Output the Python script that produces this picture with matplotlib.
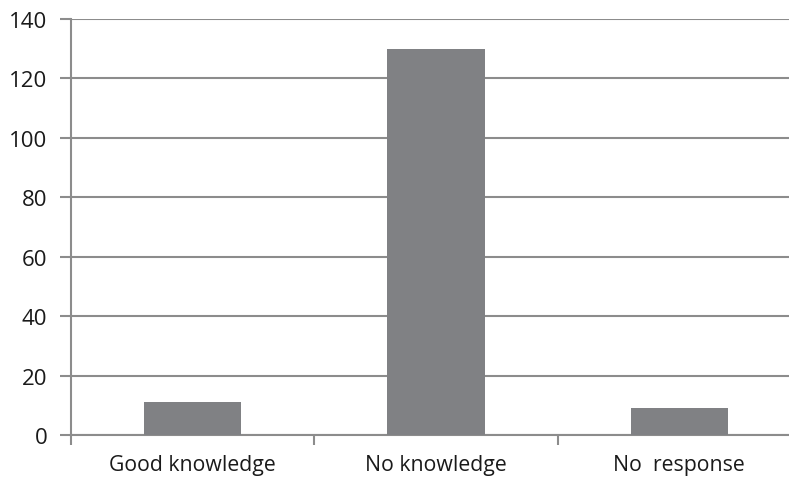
import matplotlib.pyplot as plt

categories = ["Good knowledge", "No knowledge", "No  response"]
values = [11, 130, 9]
yticks = [0, 20, 40, 60, 80, 100, 120, 140]

plt.rcParams['font.family'] = ['Open Sans', 'DejaVu Sans']

fig = plt.figure(figsize=(7.89, 4.85), dpi=100)
# right edge of plot area runs slightly past the image, as in the original
ax = fig.add_axes([71/789, 1 - 436/485, 730/789, 416/485])

grid_col = '#8c8c8c'
text_col = '#1a1a1a'
x = range(len(categories))
ax.bar(x, values, width=0.4, color='#808184', zorder=3)

ax.set_xlim(-0.5, len(categories) - 0.5)
ax.set_ylim(0, 140)
ax.set_yticks(yticks)
ax.set_yticklabels([str(v) for v in yticks], fontsize=16, color=text_col)
ax.yaxis.grid(True, color=grid_col, linewidth=1.5, zorder=0)

# category boundaries get the tick marks, names sit between them
ax.set_xticks([i - 0.5 for i in range(len(categories) + 1)])
ax.set_xticklabels([])
ax.set_xticks(list(x), minor=True)
ax.set_xticklabels(categories, minor=True, fontsize=15.3, color=text_col)
ax.tick_params(axis='x', which='minor', length=0, pad=14)
ax.tick_params(axis='x', which='major', length=7, width=1.5, color=grid_col)
ax.tick_params(axis='y', length=8, width=1.5, color=grid_col, pad=9)

for s in ['top', 'right']:
    ax.spines[s].set_visible(False)
for s in ['left', 'bottom']:
    ax.spines[s].set_color(grid_col)
    ax.spines[s].set_linewidth(1.5)

fig.savefig('out.png', dpi=100)
